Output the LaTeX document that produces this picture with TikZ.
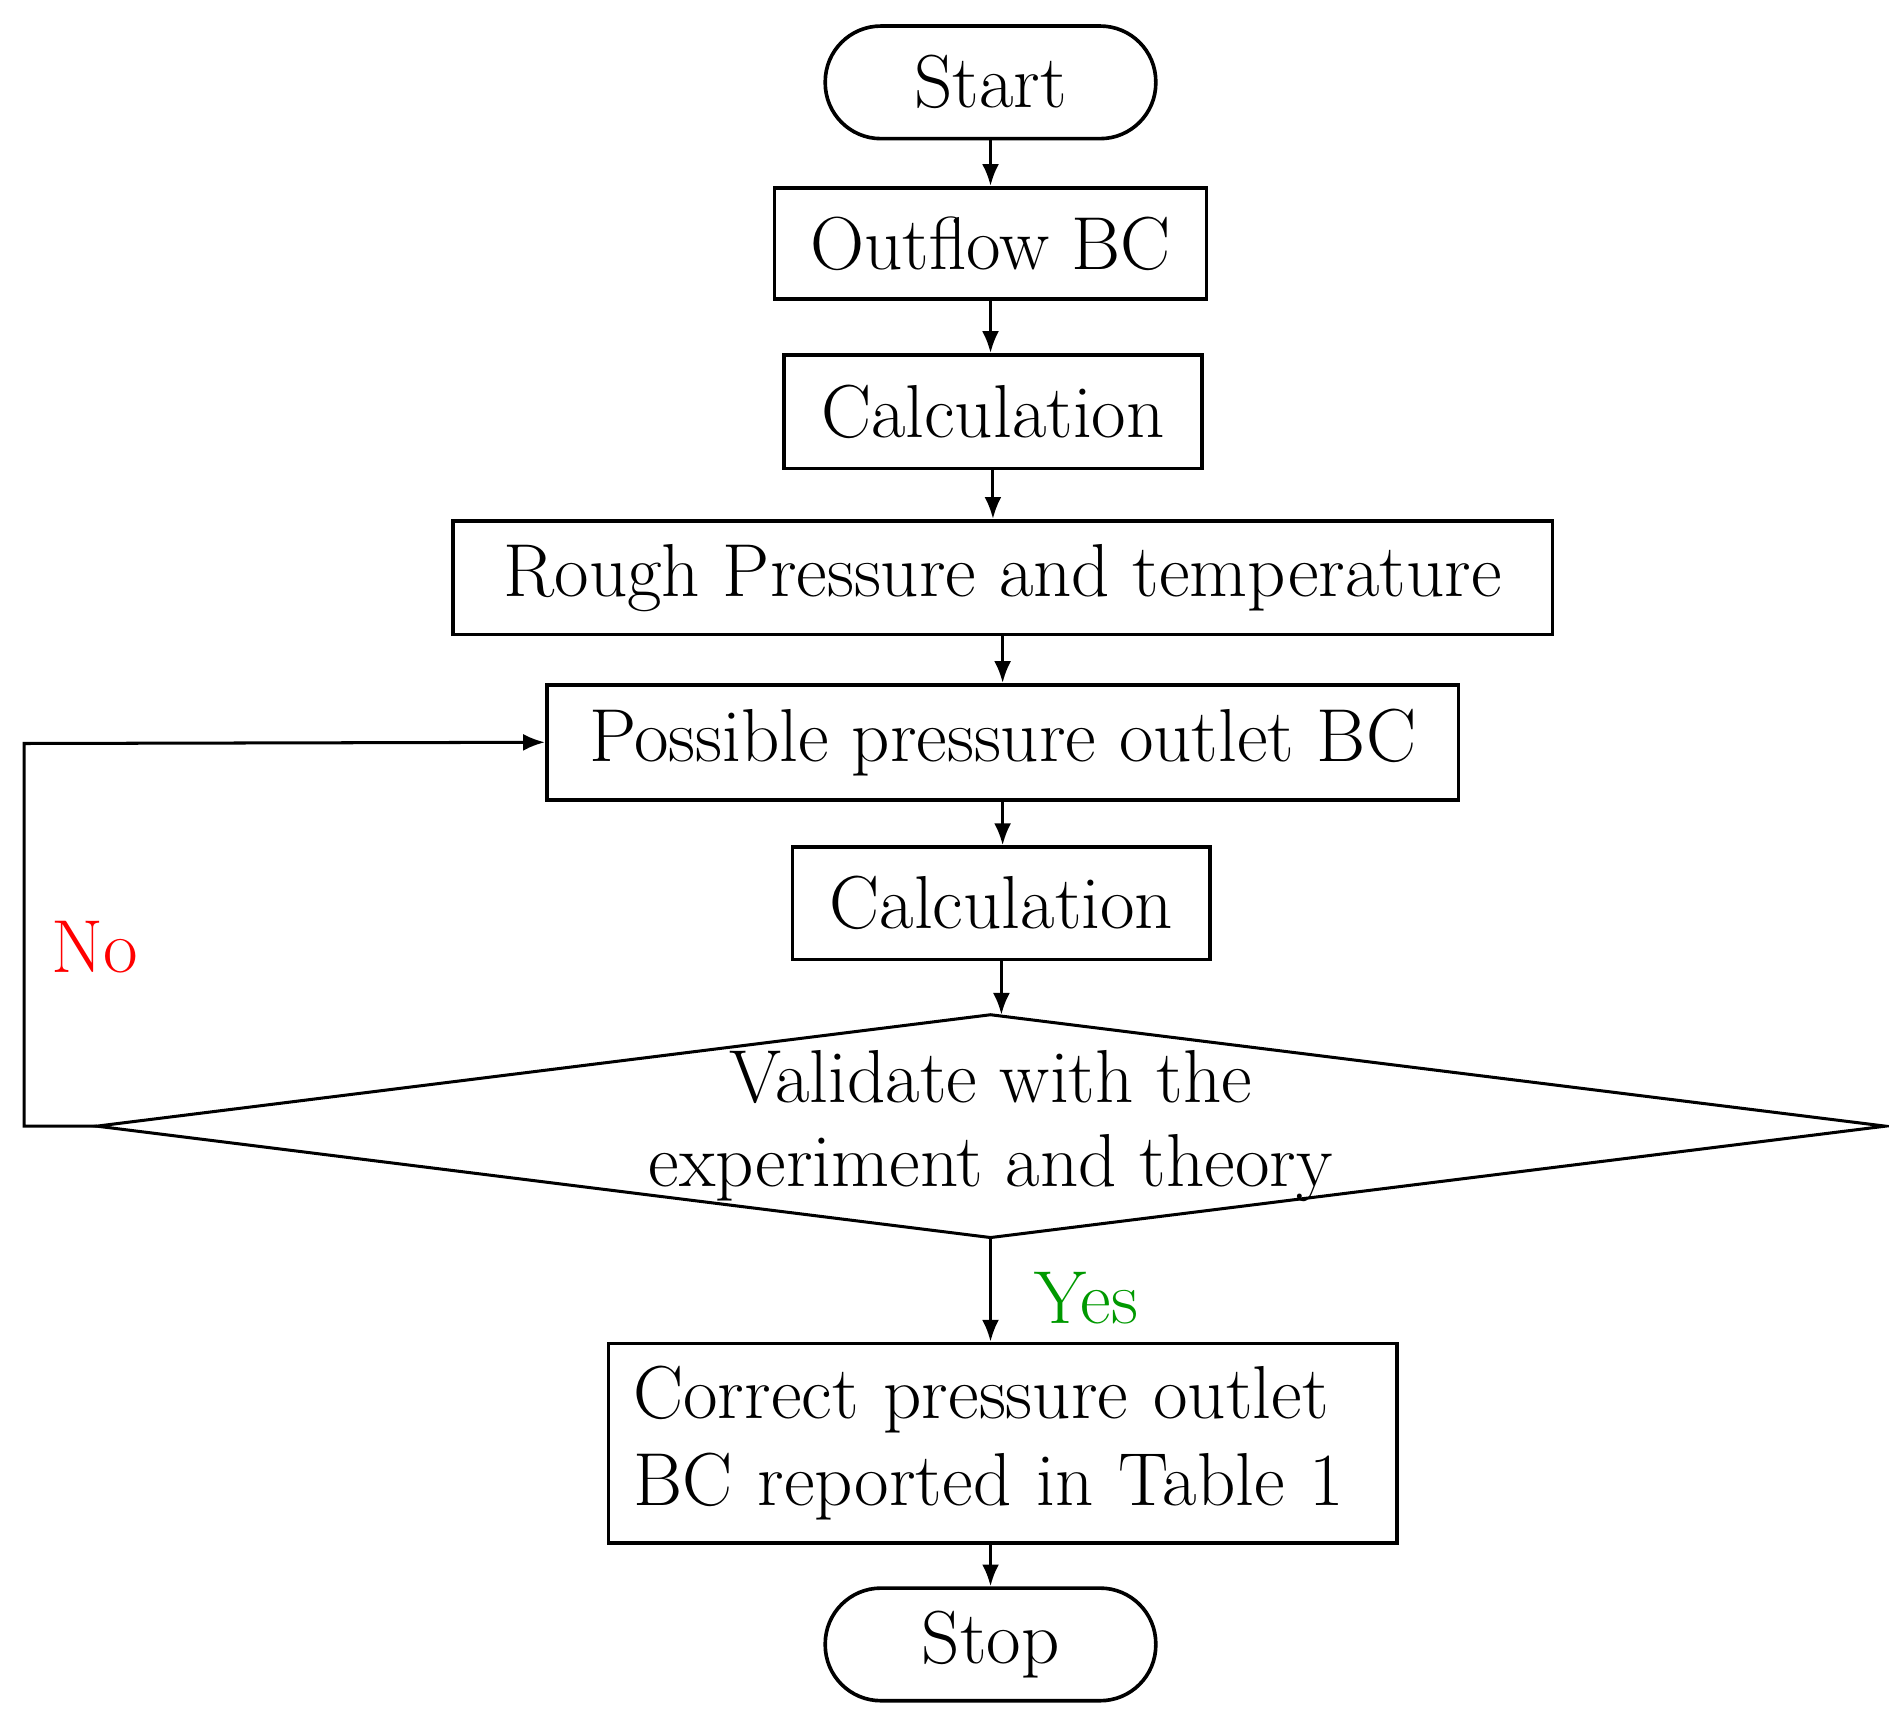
\documentclass[tikz,border=0pt]{standalone}
\usetikzlibrary{arrows.meta}
\begin{document}
\begin{tikzpicture}[x=1pt,y=-1pt,
  box/.style={draw,line width=3pt,inner sep=0pt,font=\fontsize{62}{72}\selectfont},
  term/.style={box,rounded corners=46pt,minimum width=273pt,minimum height=93pt},
  arr/.style={line width=2.5pt,-{Latex[length=18pt,width=14pt]}}]
\useasboundingbox (0,0) rectangle (1560,1416);
\node[term] (start) at (818,68) {Start};
\node[box,minimum width=357pt,minimum height=92pt] (out) at (818,201) {Outflow BC};
\node[box,minimum width=345pt,minimum height=94pt] (calc1) at (820,340) {Calculation};
\node[box,minimum width=908pt,minimum height=94pt] (rough) at (828,477) {Rough Pressure and temperature};
\node[box,minimum width=753pt,minimum height=95pt] (poss) at (828,613) {Possible pressure outlet BC};
\node[box,minimum width=345pt,minimum height=93pt] (calc2) at (827,746) {Calculation};
\coordinate (dt) at (818,838);
\coordinate (dl) at (80,930);
\coordinate (dr) at (1557,930);
\coordinate (db) at (818,1022);
\draw[line width=2.5pt] (dt) -- (dr) -- (db) -- (dl) -- cycle;
\node[font=\fontsize{62}{70}\selectfont,align=center] (val) at (818,930) {Validate with the\\experiment and theory};
\node[box,minimum width=651pt,minimum height=165pt,align=left,text width=610pt] (corr) at (828,1192) {Correct pressure outlet\\BC reported in Table 1};
\node[term] (stop) at (818,1358) {Stop};
\draw[arr] (start) -- (start|-out.north);
\draw[arr] (out) -- (out|-calc1.north);
\draw[arr] (calc1) -- (calc1|-rough.north);
\draw[arr] (rough) -- (rough|-poss.north);
\draw[arr] (poss) -- (poss|-calc2.north);
\draw[arr] (calc2) -- (calc2|-dt);
\draw[arr] (db) -- (db|-corr.north);
\draw[arr] (stop|-corr.south) -- (stop);
\coordinate (c1) at (20,930);
\coordinate (c2) at (20,614);
\draw[arr] (dl) -- (c1) -- (c2) -- (poss.west);
\node[text=red,font=\fontsize{62}{72}\selectfont] (no) at (78,782) {No};
\node[text=green!60!black,font=\fontsize{62}{72}\selectfont] (yes) at (897,1072) {Yes};
\end{tikzpicture}
\end{document}
